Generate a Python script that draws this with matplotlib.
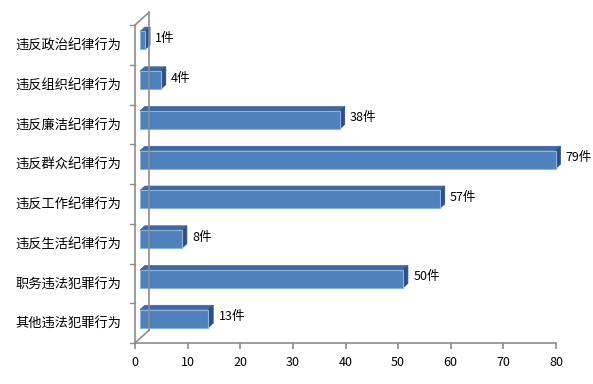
import matplotlib
matplotlib.use("Agg")
import matplotlib.pyplot as plt
from matplotlib.patches import Polygon

plt.rcParams['font.family'] = ['Noto Sans CJK SC', 'DejaVu Sans']

categories = ['违反政治纪律行为', '违反组织纪律行为', '违反廉洁纪律行为', '违反群众纪律行为',
              '违反工作纪律行为', '违反生活纪律行为', '职务违法犯罪行为', '其他违法犯罪行为']
values = [1, 4, 38, 79, 57, 8, 50, 13]
xticks = [0, 10, 20, 30, 40, 50, 60, 70, 80]

# 3d look: depth of the plot box in data units, bar sits between f1 and f2 of it
DX, DY = 2.66, 0.32
f1, f2 = 0.35, 0.7
h = 0.45
front_c, top_c, side_c, edge_c = '#4F81BD', '#41689A', '#2F5080', '#8DB3E2'
wall_c = '#8C8C8C'

fig = plt.figure(figsize=(5.93, 3.84), dpi=100)
ax = fig.add_axes([135/593, 41/384, 421/593, 318/384])
ax.set_xlim(0, 80)
ax.set_ylim(len(categories), 0)
for s in ax.spines.values():
    s.set_visible(False)

n = len(categories)
# walls
ax.plot([0, 0], [0, n], color=wall_c, lw=1.2, clip_on=False)
ax.plot([DX, DX], [-DY, n - DY], color=wall_c, lw=1.2, clip_on=False)
ax.plot([0, DX], [0, -DY], color=wall_c, lw=1.2, clip_on=False)
ax.plot([0, DX], [n, n - DY], color=wall_c, lw=1.2, clip_on=False)
ax.plot([0, 80], [n, n], color=wall_c, lw=1.2, clip_on=False)
for i in range(n + 1):
    ax.plot([-1.0, 0], [i, i], color=wall_c, lw=1, clip_on=False)

for i, v in enumerate(values):
    yc = i + 0.5 - f1 * DY
    x0 = f1 * DX
    ddx, ddy = (f2 - f1) * DX, (f2 - f1) * DY
    top = Polygon([(x0, yc - h/2), (x0 + v, yc - h/2), (x0 + v + ddx, yc - h/2 - ddy),
                   (x0 + ddx, yc - h/2 - ddy)], closed=True, fc=top_c, ec=top_c, lw=0.5, clip_on=False)
    side = Polygon([(x0 + v, yc - h/2), (x0 + v + ddx, yc - h/2 - ddy), (x0 + v + ddx, yc + h/2 - ddy),
                    (x0 + v, yc + h/2)], closed=True, fc=side_c, ec=side_c, lw=0.5, clip_on=False)
    ax.add_patch(top)
    ax.add_patch(side)
    ax.barh(yc, v, height=h, left=x0, color=front_c, edgecolor=edge_c, lw=0.8, clip_on=False)
    ax.text(x0 + v + ddx + 1.0, yc - 0.05, f'{v}件', va='center', ha='left', fontsize=9)

ax.set_yticks([i + 0.5 for i in range(n)])
ax.set_yticklabels(categories, fontsize=9.5)
ax.tick_params(axis='y', length=0, pad=10)
ax.set_xticks(xticks)
ax.set_xticklabels([str(t) for t in xticks], fontsize=9)
ax.tick_params(axis='x', length=4, color=wall_c, pad=5, width=1.2)

fig.savefig('out.png', dpi=100)
